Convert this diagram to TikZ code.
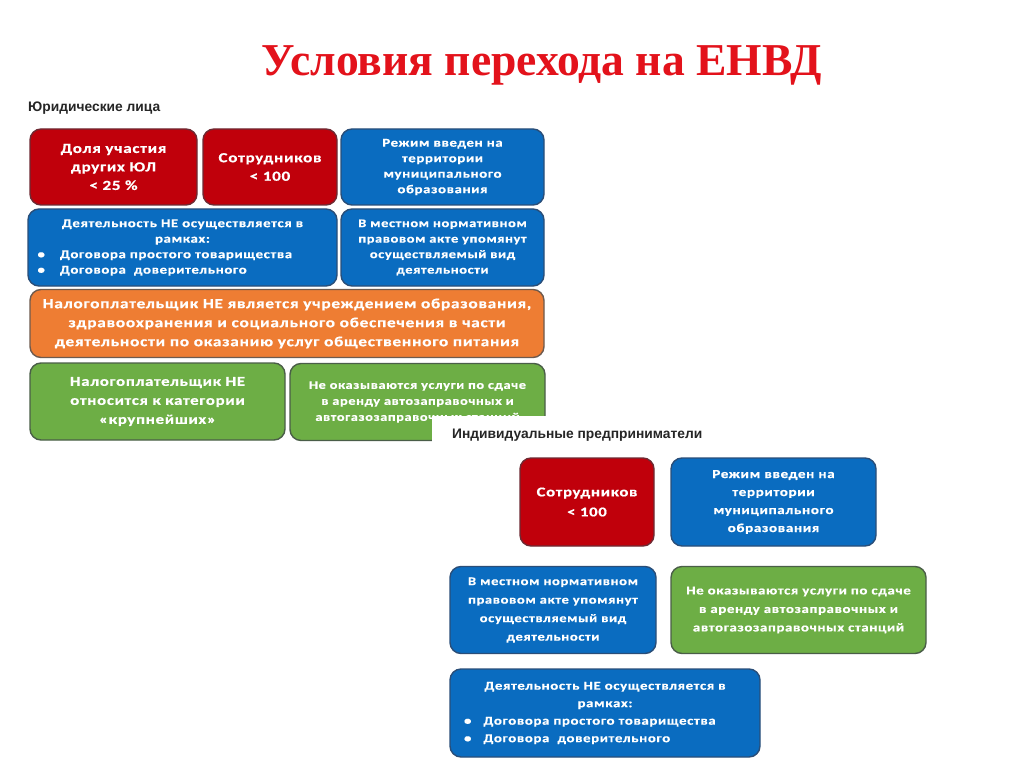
\documentclass[tikz,border=0pt]{standalone}
\usepackage{fontspec}
\setmainfont{Liberation Serif}
\newfontfamily\cf[LetterSpace=5,FakeStretch=1.24,FakeBold=0.6]{Carlito}
\newfontfamily\af{Liberation Sans}
\definecolor{titlered}{HTML}{E3121B}
\definecolor{bred}{HTML}{C0000B}
\definecolor{bredd}{HTML}{6E2A33}
\definecolor{bblue}{HTML}{0A6CC0}
\definecolor{bblued}{HTML}{2A4E78}
\definecolor{borange}{HTML}{EE7D33}
\definecolor{borangd}{HTML}{6E5A4E}
\definecolor{bgreen}{HTML}{6DAE45}
\definecolor{bgreend}{HTML}{4A5E48}
\tikzset{
  x=1pt, y=-1pt,
  cbox/.style={rectangle, rounded corners=11pt, line width=1.4pt, text=white, align=center, inner sep=0pt, font=\cf\bfseries},
  redbox/.style={cbox, fill=bred, draw=bredd},
  bluebox/.style={cbox, fill=bblue, draw=bblued},
  orangebox/.style={cbox, fill=borange, draw=borangd},
  greenbox/.style={cbox, fill=bgreen, draw=bgreend},
  heading/.style={anchor=west, inner sep=0pt, font=\af\bfseries\fontsize{13.8}{16}\selectfont, text=black!85},
}
\begin{document}
\begin{tikzpicture}
\useasboundingbox (0,0) rectangle (1024,767);
\fill[white] (0,0) rectangle (1024,767);
% title
\node[font=\bfseries\fontsize{45.6}{52}\selectfont, text=titlered, inner sep=0pt] (title) at (542,65) {Условия перехода на ЕНВД};
% legal entities
\node[heading] (jl) at (28,108) {Юридические лица};
\node[redbox, minimum width=167, minimum height=76, font=\cf\bfseries\fontsize{13.8}{18.5}\selectfont] (r1) at (113.5,167) {Доля участия\\ других ЮЛ\\ < 25 \%};
\node[redbox, minimum width=134, minimum height=76, font=\cf\bfseries\fontsize{13.8}{18.5}\selectfont] (r2) at (270,167) {Сотрудников\\ < 100};
\node[bluebox, minimum width=203, minimum height=76, font=\cf\bfseries\fontsize{12}{15.5}\selectfont] (b3) at (442.5,167) {Режим введен на\\ территории\\ муниципального\\ образования};
\node[bluebox, minimum width=309, minimum height=77, text width=290, align=left, font=\cf\bfseries\fontsize{12}{15.5}\selectfont] (b4) at (182.5,247.5) {{\centering Деятельность НЕ осуществляется в\\ рамках:\par}\raggedright•\hspace{15pt}Договора простого товарищества\\ •\hspace{15pt}Договора\ \ доверительного};
\node[bluebox, minimum width=203, minimum height=77, font=\cf\bfseries\fontsize{11.7}{15.5}\selectfont] (b5) at (442.5,247.5) {В местном нормативном\\ правовом акте упомянут\\ осуществляемый вид\\ деятельности};
\node[orangebox, minimum width=514, minimum height=68, font=\cf\bfseries\fontsize{14}{19}\selectfont] (o6) at (287,323.5) {Налогоплательщик НЕ является учреждением образования,\\ здравоохранения и социального обеспечения в части\\ деятельности по оказанию услуг общественного питания};
\node[greenbox, minimum width=255, minimum height=77, font=\cf\bfseries\fontsize{13.6}{19}\selectfont] (g7) at (157.5,401.5) {Налогоплательщик НЕ\\ относится к категории\\ «крупнейших»};
\node[greenbox, minimum width=255, minimum height=77, font=\cf\bfseries\fontsize{11.6}{16}\selectfont] (g8) at (417.5,402) {Не оказываются услуги по сдаче\\ в аренду автозаправочных и\\ автогазозаправочных станций};
% overlay panel for individual entrepreneurs
\fill[white] (432,416) rectangle (1024,767);
\node[heading] (ip) at (452,435) {Индивидуальные предприниматели};
\node[redbox, minimum width=134, minimum height=88, font=\cf\bfseries\fontsize{13.5}{20}\selectfont] (ir1) at (587,502) {Сотрудников\\ < 100};
\node[bluebox, minimum width=205, minimum height=88, font=\cf\bfseries\fontsize{12.2}{18}\selectfont] (ib2) at (773.5,502) {Режим введен на\\ территории\\ муниципального\\ образования};
\node[bluebox, minimum width=206, minimum height=87, font=\cf\bfseries\fontsize{11.8}{18.5}\selectfont] (ib3) at (553,610) {В местном нормативном\\ правовом акте упомянут\\ осуществляемый вид\\ деятельности};
\node[greenbox, minimum width=255, minimum height=87, font=\cf\bfseries\fontsize{12}{18.5}\selectfont] (ig4) at (798.5,610) {Не оказываются услуги по сдаче\\ в аренду автозаправочных и\\ автогазозаправочных станций};
\node[bluebox, minimum width=310, minimum height=88, text width=292, align=left, font=\cf\bfseries\fontsize{12}{17.5}\selectfont] (ib5) at (605,713) {{\centering Деятельность НЕ осуществляется в\\ рамках:\par}\raggedright\hspace*{5pt}•\hspace{12pt}Договора простого товарищества\\ \hspace*{5pt}•\hspace{12pt}Договора\ \ доверительного};
\end{tikzpicture}
\end{document}
